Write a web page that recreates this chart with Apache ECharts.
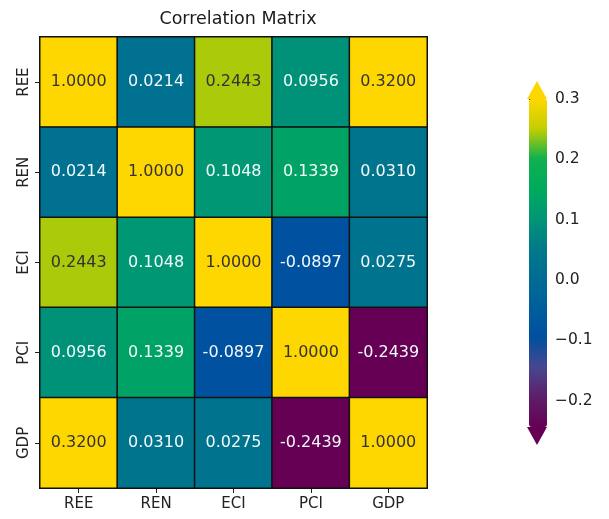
<!DOCTYPE html>
<html><head><meta charset="utf-8">
<script src="https://cdn.jsdelivr.net/npm/echarts@6/dist/echarts.min.js"></script>
<style>html,body{margin:0;padding:0;background:#fff}#c{width:609px;height:519px}</style>
</head><body><div id="c"></div>
<script>
const variables = ['REE', 'REN', 'ECI', 'PCI', 'GDP'];
const rowREE = [1.0000, 0.0214, 0.2443, 0.0956, 0.3200];
const rowREN = [0.0214, 1.0000, 0.1048, 0.1339, 0.0310];
const rowECI = [0.2443, 0.1048, 1.0000, -0.0897, 0.0275];
const rowPCI = [0.0956, 0.1339, -0.0897, 1.0000, -0.2439];
const rowGDP = [0.3200, 0.0310, 0.0275, -0.2439, 1.0000];
const colorbarTicks = [-0.2, -0.1, 0.0, 0.1, 0.2, 0.3];
const vmin = -0.2439, vmax = 0.3;

const rows = [rowREE, rowREN, rowECI, rowPCI, rowGDP];
const data = [];
rows.forEach((row, i) => row.forEach((v, j) => {
  data.push({value: [j, i, v], label: {color: v > 0.2 ? '#333333' : '#f2fafa'}});
}));

const chart = echarts.init(document.getElementById('c'));
const font = 'DejaVu Sans';
chart.setOption({
  animation: false,
  textStyle: {fontFamily: font},
  title: {text: 'Correlation Matrix', left: 233, textAlign: 'center', top: 5,
    textStyle: {fontFamily: font, fontSize: 17.5, fontWeight: 'normal', color: '#1a1a1a'}},
  grid: [
    {left: 40, top: 37, width: 387, height: 451},
    {left: 529, top: 99, width: 18, height: 328}
  ],
  xAxis: [
    {type: 'category', data: variables, gridIndex: 0, splitArea: {show: false},
     axisLine: {show: false}, axisTick: {show: true, alignWithLabel: true, length: 5, lineStyle: {color: '#222'}},
     axisLabel: {fontSize: 15, color: '#222', margin: 9, fontFamily: font}},
    {type: 'value', gridIndex: 1, show: false, min: 0, max: 1}
  ],
  yAxis: [
    {type: 'category', data: variables, gridIndex: 0, inverse: true,
     axisLine: {show: false}, axisTick: {show: true, alignWithLabel: true, length: 5, lineStyle: {color: '#222'}},
     axisLabel: {fontSize: 15, color: '#222', rotate: 90, margin: 8, fontFamily: font}},
    {type: 'value', gridIndex: 1, position: 'right', min: vmin, max: vmax,
     axisLine: {show: false}, splitLine: {show: false},
     axisTick: {show: true, length: 5, customValues: colorbarTicks, lineStyle: {color: '#222'}},
     axisLabel: {show: true, customValues: colorbarTicks, fontSize: 15.5, color: '#222', margin: 8, fontFamily: font,
       formatter: v => v.toFixed(1).replace('-', '\u2212')}}
  ],
  visualMap: {
    type: 'continuous', seriesIndex: 0, dimension: 2, min: vmin, max: vmax,
    calculable: false, realtime: false, left: 529, top: 99, itemWidth: 18, itemHeight: 328,
    padding: 0, text: null, showLabel: false, textStyle: {fontSize: 0},
    inRange: {color: ['#660055', '#5e1e6a', '#484690', '#0050a0', '#005e9c', '#006c94',
      '#007a88', '#009675', '#00aa5c', '#10b050', '#c2ce00', '#ffd700']}
  },
  graphic: [
    {type: 'polygon', shape: {points: [[527, 99], [547, 99], [537, 81]]}, style: {fill: '#ffd700'}},
    {type: 'polygon', shape: {points: [[527, 427], [547, 427], [537, 445]]}, style: {fill: '#660055'}}
  ],
  series: [
    {type: 'heatmap', xAxisIndex: 0, yAxisIndex: 0, data: data,
     itemStyle: {borderColor: '#111', borderWidth: 1.5},
     label: {show: true, fontSize: 16, fontFamily: font, formatter: p => p.value[2].toFixed(4)},
     emphasis: {disabled: true}},
    {type: 'scatter', xAxisIndex: 1, yAxisIndex: 1, data: []}
  ]
});
</script></body></html>
